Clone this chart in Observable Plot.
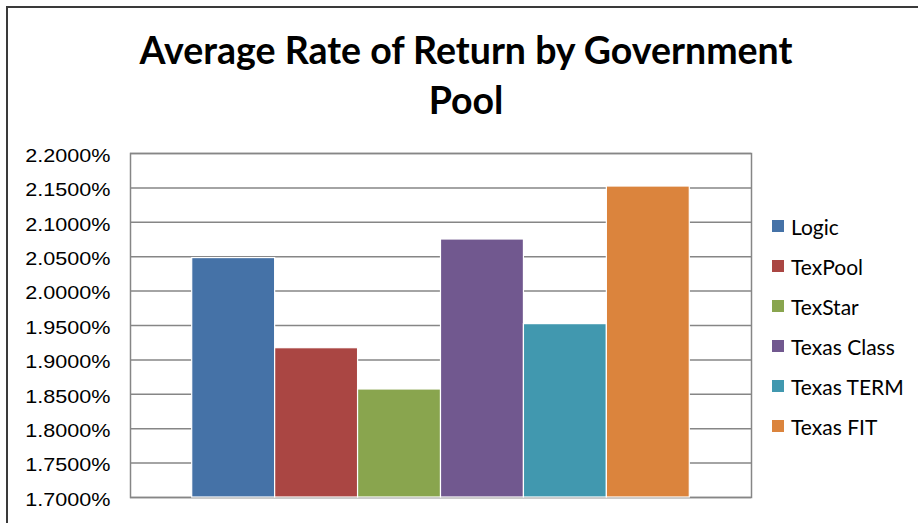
<!DOCTYPE html>
<html>
<head>
<meta charset="utf-8">
<script src="https://cdn.jsdelivr.net/npm/d3@7"></script>
<script src="https://cdn.jsdelivr.net/npm/@observablehq/plot@0.6"></script>
<style>
  html, body { margin: 0; padding: 0; background: #fff; }
  #wrap { position: relative; width: 918px; height: 523px; overflow: hidden; }
  #border { position: absolute; left: 6px; top: 6px; width: 930px; height: 540px;
            border-left: 2px solid #3a3a3a; border-top: 2px solid #3a3a3a; }
  #title { position: absolute; left: 99px; width: 734px; top: 25px; text-align: center;
           font-family: Lato, "Open Sans", sans-serif; font-weight: 700; font-size: 37.5px;
           line-height: 50px; color: #000; }
  #legend { position: absolute; left: 772px; top: 206px; font-family: Lato, "Open Sans", sans-serif;
            font-size: 21px; color: #000; }
  #legend .item { height: 40px; display: flex; align-items: center; }
  #legend .sw { width: 12px; height: 12px; margin-right: 7px; }
  #plot { position: absolute; left: 0; top: 0; }
</style>
</head>
<body>
<div id="wrap">
  <div id="plot"></div>
  <div id="border"></div>
  <div id="title">Average Rate of Return by Government<br>Pool</div>
  <div id="legend"></div>
</div>
<script>
const pools = ["Logic", "TexPool", "TexStar", "Texas Class", "Texas TERM", "Texas FIT"];
const rates = [2.048, 1.917, 1.857, 2.075, 1.952, 2.152];
const colors = ["#4572A7", "#AA4643", "#89A54E", "#71588F", "#4198AF", "#DB843D"];
const yTicks = [1.70, 1.75, 1.80, 1.85, 1.90, 1.95, 2.00, 2.05, 2.10, 2.15, 2.20];
const yMin = 1.70;
const yMax = 2.20;

const data = pools.map((p, i) => ({pool: p, rate: rates[i]}));

const chart = Plot.plot({
  width: 918,
  height: 523,
  marginLeft: 130,
  marginRight: 167,
  marginTop: 153,
  marginBottom: 26,
  style: {background: "transparent", fontFamily: "'Liberation Sans', Arial, sans-serif"},
  x: {domain: pools, paddingInner: 0, paddingOuter: 0.744, round: false, axis: null},
  y: {domain: [yMin, yMax], label: null},
  color: {domain: pools, range: colors},
  marks: [
    Plot.gridY(yTicks, {stroke: "#868686", strokeOpacity: 1, strokeWidth: 1.5}),
    Plot.frame({stroke: "#868686", strokeWidth: 1.5}),
    Plot.barY(data, {x: "pool", y1: () => yMin, y2: "rate", fill: "pool", stroke: "white", strokeWidth: 1.2, inset: 0}),
    Plot.axisY(yTicks, {label: null, tickSize: 0, tickPadding: 20, dy: 2.5, fontSize: 18, fill: "#000",
      tickFormat: d => d.toFixed(4) + "%"})
  ]
});
document.getElementById("plot").appendChild(chart);

// widen the tick labels horizontally, anchored at their right edge
chart.querySelectorAll('g[aria-label="y-axis tick label"] text').forEach(t => {
  const tr = t.getAttribute("transform") || "";
  t.setAttribute("transform", tr + " scale(1.2,1)");
});

const legend = document.getElementById("legend");
pools.forEach((p, i) => {
  const item = document.createElement("div");
  item.className = "item";
  const sw = document.createElement("div");
  sw.className = "sw";
  sw.style.background = colors[i];
  const label = document.createElement("span");
  label.textContent = p;
  item.appendChild(sw);
  item.appendChild(label);
  legend.appendChild(item);
});
</script>
</body>
</html>
